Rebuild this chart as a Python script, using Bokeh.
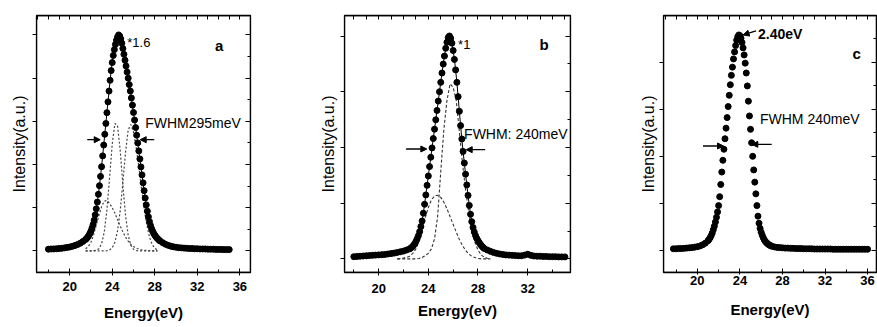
from bokeh.plotting import figure
from bokeh.models import (Range1d, LinearAxis, FixedTicker, SingleIntervalTicker,
                          Label, Arrow, NormalHead, CustomJSTickFormatter, BoxAnnotation)
from bokeh.layouts import row
from bokeh.embed import file_html
from bokeh.resources import INLINE

FONT = "Liberation Sans"

# ---------------- data ----------------
energy_ticks = [20, 24, 28, 32, 36]
energy_minor = [18, 20, 22, 24, 26, 28, 30, 32, 34, 36]
x_title = "Energy(eV)"
y_title = "Intensity(a.u.)"

# panel a : measured spectrum (x1.6)
a_x = [18.0, 18.25, 18.5, 18.75, 19.0, 19.25, 19.5, 19.75, 20.0, 20.25, 20.5, 20.75, 21.0, 21.25,
       21.5, 21.6, 21.7, 21.8, 21.9, 22.0, 22.1, 22.2, 22.3, 22.4,
       22.5, 22.6, 22.7, 22.8, 22.9, 23.0, 23.1, 23.2, 23.3, 23.4,
       23.5, 23.6, 23.7, 23.8, 23.9, 24.0, 24.1, 24.2, 24.3, 24.4,
       24.5, 24.6, 24.7, 24.8, 24.9, 25.0, 25.1, 25.2, 25.3, 25.4,
       25.5, 25.6, 25.7, 25.8, 25.9, 26.0, 26.1, 26.2, 26.3, 26.4,
       26.5, 26.6, 26.7, 26.8, 26.9, 27.0, 27.1, 27.2, 27.3, 27.4,
       27.5, 27.6, 27.7, 27.8, 27.9, 28.0, 28.1, 28.2, 28.3, 28.4, 28.5,
       28.75, 29.0, 29.25, 29.5, 29.75, 30.0, 30.25, 30.5, 30.75, 31.0, 31.25, 31.5, 31.75,
       32.0, 32.25, 32.5, 32.75, 33.0, 33.25, 33.5, 33.75, 34.0, 34.25, 34.5, 34.75, 35.0]
a_y = [0.008, 0.009, 0.009, 0.010, 0.011, 0.012, 0.014, 0.016, 0.018, 0.021, 0.025, 0.030, 0.036, 0.044,
       0.053, 0.058, 0.064, 0.072, 0.081, 0.092, 0.106, 0.122, 0.142, 0.167,
       0.195, 0.226, 0.262, 0.302, 0.345, 0.390, 0.440, 0.490, 0.540, 0.590,
       0.640, 0.690, 0.740, 0.790, 0.835, 0.872, 0.905, 0.932, 0.956, 0.975,
       0.990, 1.000, 0.995, 0.982, 0.962, 0.937, 0.910, 0.883, 0.856, 0.828,
       0.800, 0.770, 0.740, 0.708, 0.675, 0.641, 0.606, 0.571, 0.536, 0.500,
       0.463, 0.426, 0.389, 0.352, 0.315, 0.279, 0.245, 0.213, 0.184, 0.158,
       0.136, 0.118, 0.103, 0.091, 0.081, 0.073, 0.066, 0.060, 0.055, 0.050, 0.046,
       0.038, 0.031, 0.026, 0.022, 0.019, 0.017, 0.015, 0.014, 0.013, 0.012, 0.011, 0.011, 0.010,
       0.010, 0.009, 0.009, 0.009, 0.008, 0.008, 0.008, 0.007, 0.007, 0.007, 0.006, 0.006, 0.006]
# panel a : fitted components
a_fit_x = [21.5, 21.75, 22.0, 22.25, 22.5, 22.75, 23.0, 23.25, 23.5, 23.75, 24.0, 24.25, 24.5, 24.75,
           25.0, 25.25, 25.5, 25.75, 26.0, 26.25, 26.5, 26.75, 27.0, 27.25, 27.5, 27.75, 28.0, 28.25]
a_fit1 = [0.0, 0.0, 0.0, 0.001, 0.003, 0.010, 0.033, 0.087, 0.190, 0.338, 0.494, 0.590, 0.579, 0.465,
          0.306, 0.165, 0.073, 0.026, 0.008, 0.002, 0.0, 0.0, 0.0, 0.0, 0.0, 0.0, 0.0, 0.0]
a_fit2 = [0.0, 0.0, 0.0, 0.0, 0.0, 0.0, 0.0, 0.0, 0.001, 0.004, 0.014, 0.040, 0.093, 0.186,
          0.316, 0.456, 0.560, 0.585, 0.550, 0.480, 0.390, 0.290, 0.195, 0.120, 0.065, 0.030, 0.012, 0.004]
a_fit3 = [0.010, 0.020, 0.040, 0.075, 0.120, 0.165, 0.205, 0.230, 0.234, 0.220, 0.200, 0.175, 0.145, 0.115,
          0.088, 0.064, 0.045, 0.030, 0.020, 0.013, 0.008, 0.005, 0.003, 0.002, 0.001, 0.0, 0.0, 0.0]

# panel b : measured spectrum (x1)
b_x = [18.0, 18.25, 18.5, 18.75, 19.0, 19.25, 19.5, 19.75, 20.0, 20.25, 20.5, 20.75, 21.0, 21.25,
       21.5, 21.75, 22.0, 22.25,
       22.5, 22.6, 22.7, 22.8, 22.9, 23.0, 23.1, 23.2, 23.3, 23.4,
       23.5, 23.6, 23.7, 23.8, 23.9, 24.0, 24.1, 24.2, 24.3, 24.4,
       24.5, 24.6, 24.7, 24.8, 24.9, 25.0, 25.1, 25.2, 25.3, 25.4,
       25.5, 25.6, 25.7, 25.8, 25.9, 26.0, 26.1, 26.2, 26.3, 26.4,
       26.5, 26.6, 26.7, 26.8, 26.9, 27.0, 27.1, 27.2, 27.3, 27.4,
       27.5, 27.6, 27.7, 27.8, 27.9, 28.0, 28.1, 28.2, 28.3, 28.4, 28.5,
       28.75, 29.0, 29.25, 29.5, 29.75, 30.0, 30.25, 30.5, 30.75, 31.0, 31.25, 31.5, 31.75,
       32.0, 32.25, 32.5, 32.75, 33.0, 33.25, 33.5, 33.75, 34.0, 34.25, 34.5, 34.75, 35.0]
b_y = [0.010, 0.011, 0.012, 0.013, 0.014, 0.015, 0.016, 0.017, 0.018, 0.019, 0.020, 0.022, 0.024, 0.026,
       0.029, 0.032, 0.035, 0.040,
       0.045, 0.049, 0.054, 0.060, 0.068, 0.078, 0.090, 0.104, 0.122, 0.145,
       0.170, 0.205, 0.245, 0.287, 0.330, 0.372, 0.414, 0.456, 0.498, 0.540,
       0.582, 0.624, 0.666, 0.708, 0.750, 0.792, 0.834, 0.874, 0.910, 0.945,
       0.972, 0.993, 1.000, 0.990, 0.968, 0.935, 0.895, 0.848, 0.792, 0.728,
       0.662, 0.598, 0.538, 0.482, 0.430, 0.380, 0.332, 0.285, 0.240, 0.200,
       0.167, 0.141, 0.121, 0.105, 0.092, 0.082, 0.073, 0.065, 0.058, 0.052, 0.047,
       0.040, 0.034, 0.029, 0.025, 0.022, 0.020, 0.018, 0.017, 0.016, 0.015, 0.014, 0.014, 0.017,
       0.021, 0.016, 0.013, 0.012, 0.012, 0.011, 0.011, 0.010, 0.010, 0.010, 0.009, 0.009, 0.009]
# panel b : fitted components
b_fit_x = [21.5, 21.75, 22.0, 22.25, 22.5, 22.75, 23.0, 23.25, 23.5, 23.75, 24.0, 24.25, 24.5, 24.75,
           25.0, 25.25, 25.5, 25.75, 26.0, 26.25, 26.5, 26.75, 27.0, 27.25, 27.5, 27.75, 28.0, 28.25,
           28.5, 28.75, 29.0]
b_fit1 = [0.0, 0.0, 0.0, 0.0, 0.0, 0.0, 0.0, 0.002, 0.006, 0.015, 0.025, 0.045, 0.090, 0.190,
          0.390, 0.580, 0.710, 0.785, 0.770, 0.710, 0.570, 0.430, 0.310, 0.210, 0.130, 0.075, 0.040, 0.018,
          0.008, 0.003, 0.0]
b_fit2 = [0.0, 0.002, 0.004, 0.007, 0.012, 0.025, 0.045, 0.080, 0.130, 0.185, 0.230, 0.265, 0.282, 0.286,
          0.276, 0.255, 0.225, 0.190, 0.155, 0.120, 0.087, 0.060, 0.038, 0.022, 0.012, 0.006, 0.002, 0.0,
          0.0, 0.0, 0.0]

# panel c : measured spectrum
c_x = [17.75, 18.0, 18.25, 18.5, 18.75, 19.0, 19.25, 19.5, 19.75, 20.0, 20.25, 20.5, 20.75,
       21.0, 21.1, 21.2, 21.3, 21.4, 21.5, 21.6, 21.7, 21.8, 21.9,
       22.0, 22.1, 22.2, 22.3, 22.4, 22.5, 22.6, 22.7, 22.8, 22.9,
       23.0, 23.1, 23.2, 23.3, 23.4, 23.5, 23.6, 23.7, 23.8, 23.9,
       24.0, 24.1, 24.2, 24.3, 24.4, 24.5, 24.6, 24.7, 24.8, 24.9,
       25.0, 25.1, 25.2, 25.3, 25.4, 25.5, 25.6, 25.7, 25.8, 25.9,
       26.0, 26.1, 26.2, 26.3, 26.4, 26.5, 26.6, 26.7, 26.8, 26.9, 27.0,
       27.25, 27.5, 27.75, 28.0, 28.25, 28.5, 28.75, 29.0, 29.25, 29.5, 29.75, 30.0,
       30.25, 30.5, 30.75, 31.0, 31.25, 31.5, 31.75, 32.0, 32.25, 32.5, 32.75, 33.0,
       33.25, 33.5, 33.75, 34.0, 34.25, 34.5, 34.75, 35.0, 35.25, 35.5, 35.75, 36.0]
c_y = [0.006, 0.006, 0.007, 0.007, 0.008, 0.009, 0.010, 0.011, 0.013, 0.015, 0.018, 0.023, 0.030,
       0.040, 0.046, 0.053, 0.062, 0.073, 0.087, 0.102, 0.120, 0.140, 0.163,
       0.190, 0.228, 0.280, 0.333, 0.383, 0.430, 0.475, 0.520, 0.565, 0.612,
       0.660, 0.705, 0.745, 0.780, 0.815, 0.845, 0.872, 0.895, 0.910, 0.917,
       0.914, 0.903, 0.885, 0.862, 0.832, 0.797, 0.755, 0.700, 0.635, 0.572,
       0.515, 0.458, 0.400, 0.342, 0.290, 0.240, 0.190, 0.145, 0.115, 0.093,
       0.077, 0.064, 0.053, 0.044, 0.037, 0.032, 0.028, 0.024, 0.021, 0.019, 0.017,
       0.014, 0.012, 0.011, 0.010, 0.009, 0.009, 0.008, 0.008, 0.007, 0.007, 0.007, 0.006,
       0.006, 0.006, 0.006, 0.005, 0.005, 0.005, 0.005, 0.005, 0.005, 0.005, 0.004, 0.004,
       0.004, 0.004, 0.004, 0.004, 0.004, 0.004, 0.004, 0.004, 0.004, 0.004, 0.004, 0.004]


def blank():
    return CustomJSTickFormatter(code="return ''")


def make_panel(width, xr, yr, borders, xbounds, ybounds, ystep, bottom_cfg, ylabel_standoff):
    left, right, top, bottom = borders
    p = figure(width=width, height=327, x_range=Range1d(*xr), y_range=Range1d(*yr),
               output_backend="svg", toolbar_location=None,
               min_border_left=left, min_border_right=right,
               min_border_top=top, min_border_bottom=bottom,
               background_fill_color="white", border_fill_color="white")
    p.xgrid.visible = False
    p.ygrid.visible = False
    p.outline_line_color = "black"
    p.outline_line_width = 1.3
    p.add_layout(BoxAnnotation(fill_color=None, fill_alpha=0, line_color="black",
                               line_width=1.3, line_alpha=1))

    tick_out, lab_standoff, title_standoff = bottom_cfg
    xa = p.xaxis[0]
    xa.ticker = FixedTicker(ticks=energy_ticks, minor_ticks=energy_minor)
    if xbounds is not None:
        xa.bounds = xbounds
    xa.axis_line_color = None
    xa.major_tick_in = 4
    xa.major_tick_out = tick_out
    xa.minor_tick_in = 3
    xa.minor_tick_out = 0
    xa.major_tick_line_color = "black"
    xa.minor_tick_line_color = "black"
    xa.major_label_standoff = lab_standoff
    xa.major_label_text_font = FONT
    xa.major_label_text_font_size = "13px"
    xa.major_label_text_font_style = "bold"
    xa.major_label_text_color = "black"
    xa.axis_label = x_title
    xa.axis_label_standoff = title_standoff
    xa.axis_label_text_font = FONT
    xa.axis_label_text_font_size = "15px"
    xa.axis_label_text_font_style = "bold"
    xa.axis_label_text_color = "black"

    ya = p.yaxis[0]
    ya.ticker = SingleIntervalTicker(interval=ystep, num_minor_ticks=0)
    ya.formatter = blank()
    ya.bounds = ybounds
    ya.axis_line_color = None
    ya.major_tick_in = 0
    ya.major_tick_out = 4
    ya.minor_tick_line_color = None
    ya.major_tick_line_color = "black"
    ya.major_label_text_font_size = "1px"
    ya.major_label_standoff = 0
    ya.axis_label = y_title
    ya.axis_label_standoff = ylabel_standoff
    ya.axis_label_text_font = FONT
    ya.axis_label_text_font_size = "16px"
    ya.axis_label_text_font_style = "normal"
    ya.axis_label_text_color = "black"

    top_ax = LinearAxis(ticker=SingleIntervalTicker(interval=1, num_minor_ticks=0),
                        formatter=blank(), major_label_text_font_size="1px",
                        major_label_standoff=0, major_tick_in=4, major_tick_out=0,
                        minor_tick_line_color=None, axis_line_color=None,
                        major_tick_line_color="black")
    p.add_layout(top_ax, "above")
    right_ax = LinearAxis(ticker=SingleIntervalTicker(interval=ystep, num_minor_ticks=2),
                          formatter=blank(), major_label_text_font_size="1px",
                          major_label_standoff=0, major_tick_in=5, major_tick_out=0,
                          minor_tick_in=3, minor_tick_out=0, axis_line_color=None,
                          major_tick_line_color="black", minor_tick_line_color="black")
    p.add_layout(right_ax, "right")
    return p


def add_text(p, x, y, text, size="14px", style="normal", align="left"):
    p.add_layout(Label(x=x, y=y, text=text, text_font=FONT, text_font_size=size,
                       text_font_style=style, text_align=align, text_baseline="middle",
                       text_color="black"))


def add_arrow(p, x0, y0, x1, y1):
    p.add_layout(Arrow(end=NormalHead(size=6, fill_color="black", line_color="black", line_width=1),
                       x_start=x0, y_start=y0, x_end=x1, y_end=y1,
                       line_color="black", line_width=1.3))


# ---------------- panel a ----------------
pa = make_panel(300, (16.88, 37.0), (-0.1, 1.09), (36, 50, 13, 55),
                (16.64, 36.001), (-0.09, 1.001), 0.2, (3, 6, 10), 5)
for fy in (a_fit1, a_fit2, a_fit3):
    pa.line(a_fit_x, fy, line_color="#444444", line_width=1.2, line_dash="2 2")
pa.line(a_x, a_y, line_color="black", line_width=1)
pa.scatter(a_x, a_y, marker="circle", size=6, fill_color="black", line_color="black")
add_text(pa, 25.41, 0.965, "*1.6", size="13px")
add_text(pa, 34.06, 0.951, "a", size="15px", style="bold", align="center")
add_text(pa, 27.1, 0.593, "FWHM295meV")
add_arrow(pa, 21.65, 0.515, 22.87, 0.515)
add_arrow(pa, 27.95, 0.515, 26.63, 0.515)

# ---------------- panel b ----------------
pb = make_panel(310, (17.25, 35.45), (-0.061, 1.092), (44, 40, 14, 49),
                None, (-0.056, 1.001), 0.25, (3, 8, 6), 4)
for fy in (b_fit1, b_fit2):
    pb.line(b_fit_x, fy, line_color="#333333", line_width=1.1, line_dash="3 2")
pb.line(b_x, b_y, line_color="black", line_width=1)
pb.scatter(b_x, b_y, marker="circle", size=6, fill_color="black", line_color="black")
add_text(pb, 26.4, 0.96, "*1", size="13px")
add_text(pb, 33.33, 0.96, "b", size="15px", style="bold", align="center")
add_text(pb, 26.88, 0.56, "FWHM: 240meV")
add_arrow(pb, 22.21, 0.493, 23.88, 0.493)
add_arrow(pb, 28.58, 0.49, 27.05, 0.49)

# ---------------- panel c ----------------
pc = make_panel(267, (16.82, 36.84), (-0.095, 1.0), (53, 1, 15, 48),
                (16.82, 36.01), (-0.09, 0.901), 0.2, (2, 1, 13), 3)
pc.scatter(c_x, c_y, marker="circle", size=6, fill_color="black", line_color="black")
add_text(pc, 25.71, 0.921, "2.40eV", size="14px", style="bold")
add_arrow(pc, 25.52, 0.934, 24.3, 0.917)
add_text(pc, 34.97, 0.838, "c", size="15px", style="bold", align="center")
add_text(pc, 25.89, 0.56, "FWHM 240meV")
add_arrow(pc, 20.53, 0.444, 22.46, 0.444)
add_arrow(pc, 26.99, 0.451, 25.12, 0.451)

layout = row(pa, pb, pc)
open("out.html", "w").write(file_html(layout, INLINE))
